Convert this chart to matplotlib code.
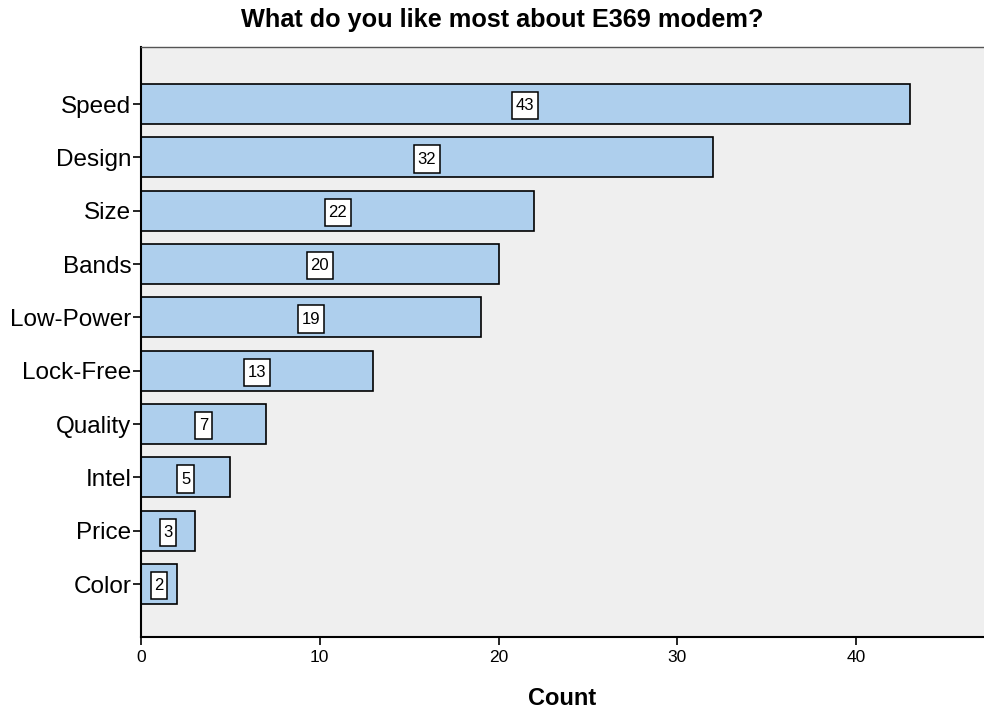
import matplotlib.pyplot as plt

categories = ["Speed", "Design", "Size", "Bands", "Low-Power", "Lock-Free",
              "Quality", "Intel", "Price", "Color"]
counts = [43, 32, 22, 20, 19, 13, 7, 5, 3, 2]

plt.rcParams['font.family'] = ['Liberation Sans', 'DejaVu Sans']

fig = plt.figure(figsize=(9.84, 7.09), dpi=100)
ax = fig.add_axes([0.1433, 0.1016, 0.8567, 0.8321])
ax.set_facecolor("#efefef")

pos = list(range(len(categories)))
ax.barh(pos, counts, height=0.75, color="#aecfed", edgecolor="black", linewidth=1.2)
for y, v in zip(pos, counts):
    ax.text(v / 2, y + 0.03, str(v), ha="center", va="center", fontsize=12,
            bbox=dict(boxstyle="square,pad=0.22", mutation_aspect=1.7,
                      facecolor="white", edgecolor="black", linewidth=1.1))

ax.set_ylim(9.99, -1.07)
ax.set_xlim(0, 47.16)
ax.set_yticks(pos)
ax.set_yticklabels(categories, fontsize=17.5)
ax.set_xticks([0, 10, 20, 30, 40])
ax.tick_params(axis="x", labelsize=12.5, length=6, width=1.2, direction="out")
ax.tick_params(axis="y", length=6, width=1.2, direction="out", pad=1)

for s in ["left", "bottom"]:
    ax.spines[s].set_linewidth(1.5)
ax.spines["top"].set_color("#555555")
ax.spines["top"].set_linewidth(1)
ax.spines["right"].set_visible(False)

ax.set_xlabel("Count", fontsize=17, fontweight="bold", labelpad=16)
fig.text(502 / 984, 1 - 20 / 709, "What do you like most about E369 modem?",
         ha="center", va="center", fontsize=18.2, fontweight="bold")

fig.savefig("out.png", dpi=100)
